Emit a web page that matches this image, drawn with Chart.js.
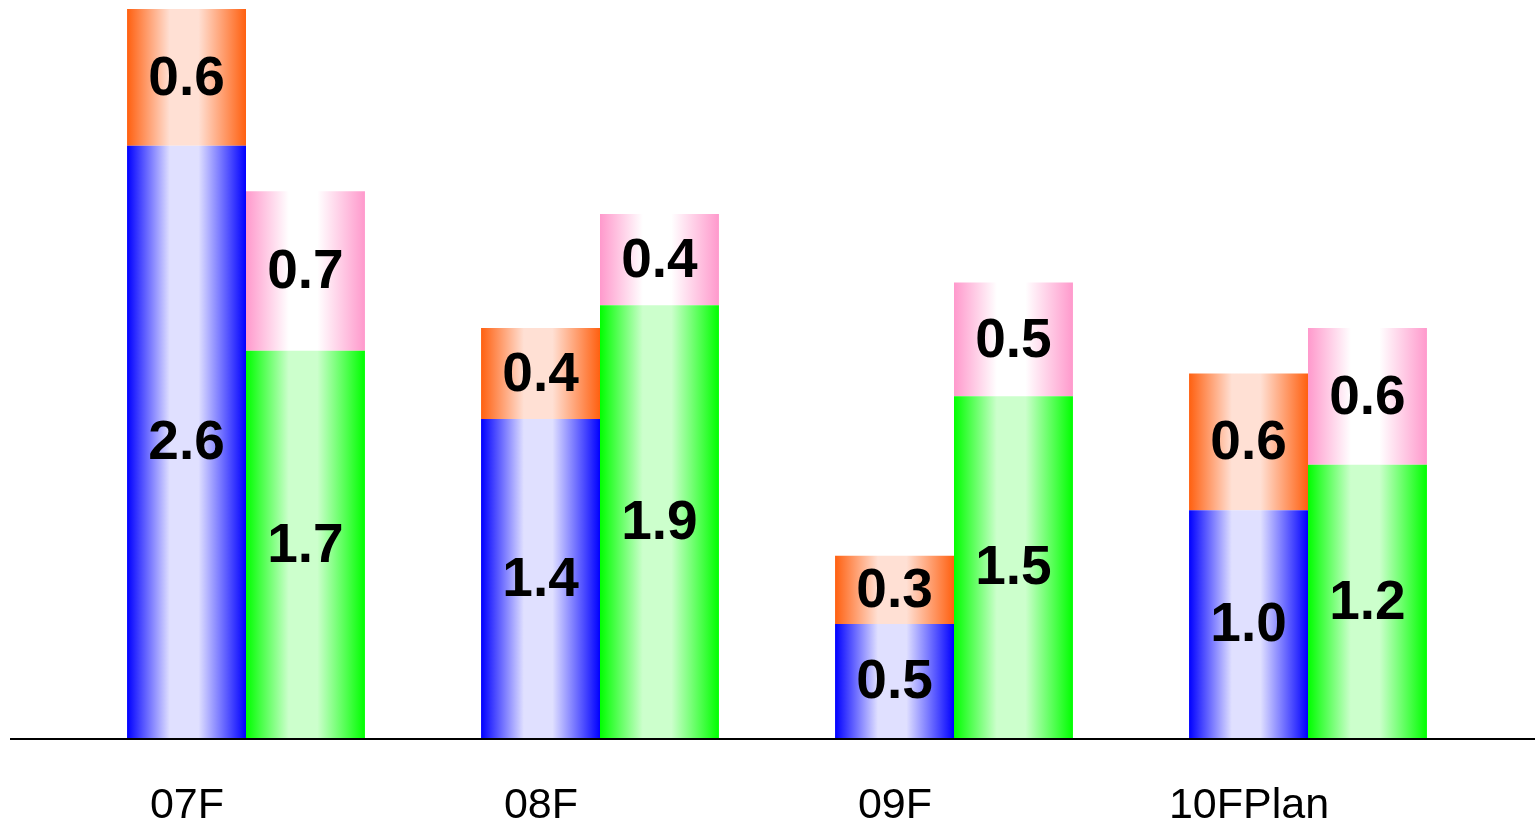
<!DOCTYPE html>
<html>
<head>
<meta charset="utf-8">
<script src="https://cdn.jsdelivr.net/npm/chart.js@4.4.0/dist/chart.umd.min.js"></script>
<style>
	body { margin: 0; background: #fff; }
	#wrap { width: 1535px; height: 825px; }
</style>
</head>
<body>
<div id="wrap"><canvas id="myChart" width="1535" height="825"></canvas></div>
<script>
var categories = ["07F", "08F", "09F", "10FPlan"];
var blueVals = [2.6, 1.4, 0.5, 1.0];
var orangeVals = [0.6, 0.4, 0.3, 0.6];
var greenVals = [1.7, 1.9, 1.5, 1.2];
var pinkVals = [0.7, 0.4, 0.5, 0.6];

var CAT_PCT = 0.672;

// horizontal "cylinder" shading: strong colour at both edges, pale in the middle
function shade(edge, mid, side) {
	return function (c) {
		var chart = c.chart;
		var xs = chart.scales.x;
		if (!xs || c.dataIndex === undefined) return edge;
		var center = xs.getPixelForValue(c.dataIndex);
		var w = (xs.width / categories.length) * CAT_PCT / 2;
		if (!isFinite(center) || !isFinite(w) || w <= 0) return edge;
		var x0 = side === 0 ? center - w : center;
		var g = chart.ctx.createLinearGradient(x0, 0, x0 + w, 0);
		g.addColorStop(0, edge);
		g.addColorStop(0.36, mid);
		g.addColorStop(0.6, mid);
		g.addColorStop(1, edge);
		return g;
	};
}

var valueLabels = {
	id: "valueLabels",
	afterDatasetsDraw: function (chart) {
		var ctx = chart.ctx;
		ctx.save();
		ctx.font = "bold 55px 'Liberation Sans', Arial, sans-serif";
		ctx.fillStyle = "#000";
		ctx.textAlign = "center";
		ctx.textBaseline = "middle";
		chart.data.datasets.forEach(function (ds, i) {
			var meta = chart.getDatasetMeta(i);
			meta.data.forEach(function (bar, j) {
				var y = (bar.y + bar.base) / 2;
				ctx.fillText(ds.data[j].toFixed(1), bar.x, y + 2);
			});
		});
		ctx.restore();
	}
};

var baseLine = {
	id: "baseLine",
	afterDatasetsDraw: function (chart) {
		var ctx = chart.ctx;
		var y = chart.scales.y.getPixelForValue(0);
		ctx.save();
		ctx.strokeStyle = "#000";
		ctx.lineWidth = 2;
		ctx.beginPath();
		ctx.moveTo(10, y + 1);
		ctx.lineTo(chart.width, y + 1);
		ctx.stroke();
		ctx.restore();
	}
};

var ctx = document.getElementById("myChart").getContext("2d");
var myChart = new Chart(ctx, {
	type: "bar",
	data: {
		labels: categories,
		datasets: [
			{ label: "A", data: blueVals, stack: "a", backgroundColor: shade("#0000ff", "#e0e0ff", 0) },
			{ label: "B", data: orangeVals, stack: "a", backgroundColor: shade("#ff6010", "#ffe0d4", 0) },
			{ label: "C", data: greenVals, stack: "b", backgroundColor: shade("#00ff00", "#ccffcc", 1) },
			{ label: "D", data: pinkVals, stack: "b", backgroundColor: shade("#ff99cc", "#ffffff", 1) }
		]
	},
	options: {
		responsive: false,
		animation: false,
		devicePixelRatio: 1,
		categoryPercentage: CAT_PCT,
		barPercentage: 1,
		layout: { padding: { left: 69, right: 50, top: 0, bottom: 0 } },
		plugins: {
			legend: { display: false },
			tooltip: { enabled: false }
		},
		scales: {
			x: {
				stacked: true,
				grid: { display: false },
				border: { display: false },
				afterFit: function (scale) {
					scale.height = 87;
				},
				ticks: {
					color: "#000",
					font: { family: "'Liberation Sans', Arial, sans-serif", size: 43 },
					padding: 34,
					labelOffset: -59,
					maxRotation: 0
				}
			},
			y: {
				stacked: true,
				display: false,
				min: 0,
				max: 3.24
			}
		}
	},
	plugins: [valueLabels, baseLine]
});
</script>
</body>
</html>
